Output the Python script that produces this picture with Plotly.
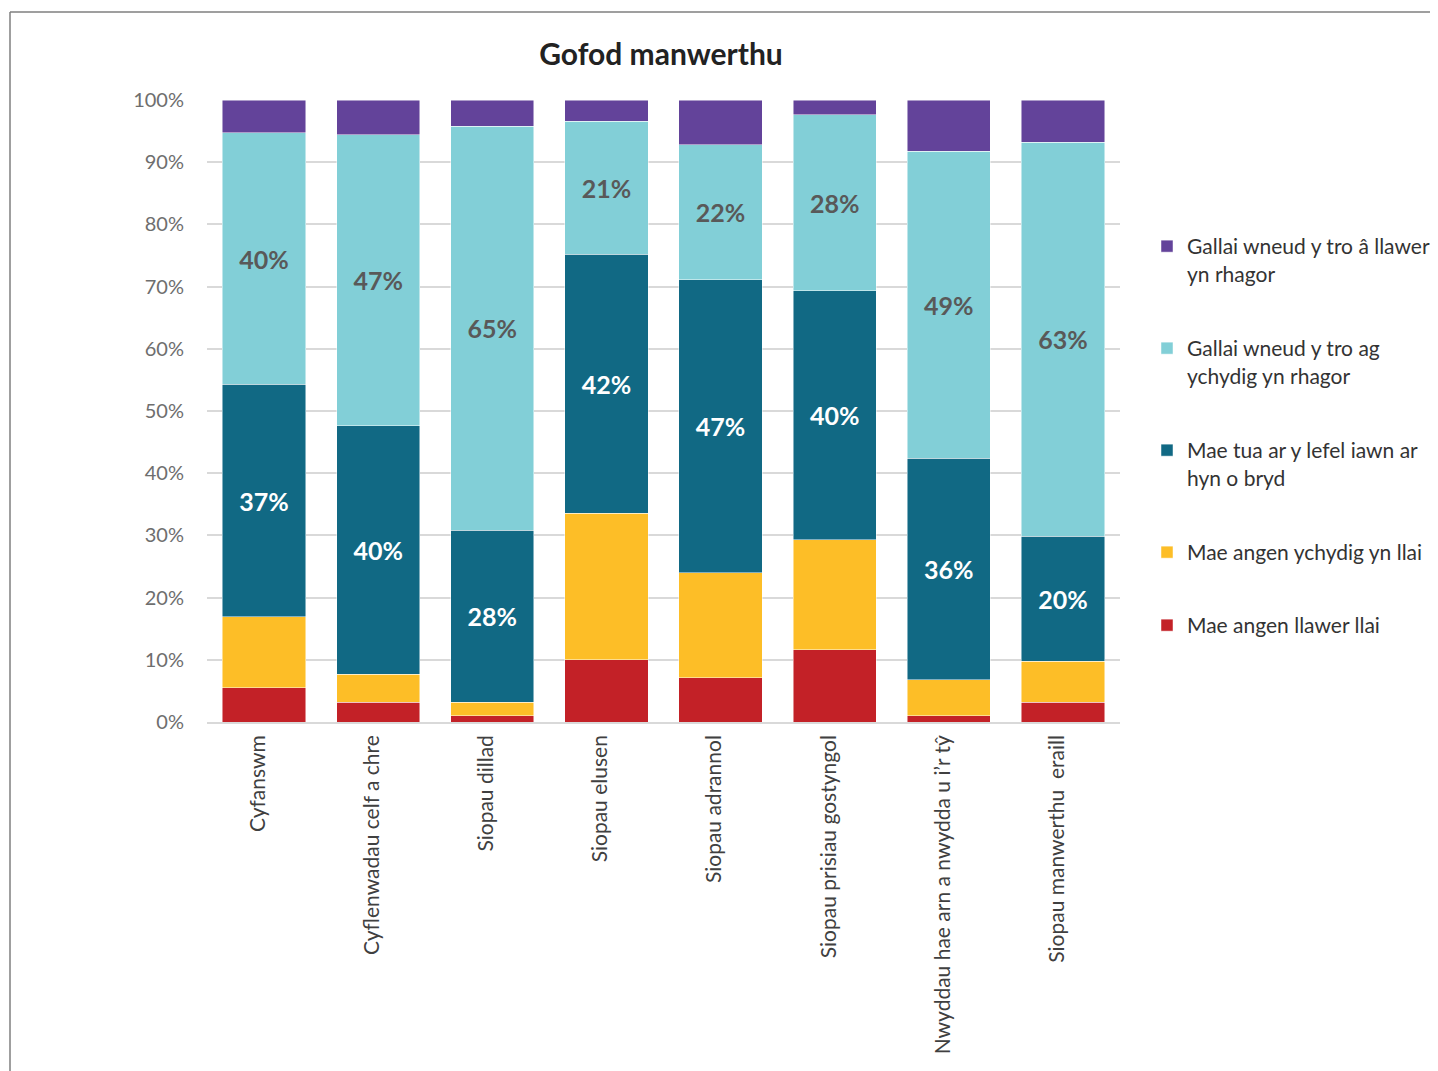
import plotly.graph_objects as go

categories = ["Cyfanswm", "Cyflenwadau celf a chre", "Siopau dillad", "Siopau elusen",
              "Siopau adrannol", "Siopau prisiau gostyngol",
              "Nwyddau hae arn a nwydda u i\u2019r tŷ", "Siopau manwerthu  eraill"]

red_vals = [5.5, 3.2, 1.0, 10.0, 7.1, 11.6, 1.0, 3.2]
yellow_vals = [11.4, 4.5, 2.2, 23.6, 16.9, 17.7, 5.8, 6.6]
dark_vals = [37.4, 39.9, 27.6, 41.6, 47.1, 40.0, 35.6, 20.1]
light_vals = [40.4, 46.8, 65.0, 21.4, 21.7, 28.3, 49.4, 63.3]
purple_vals = [5.3, 5.6, 4.2, 3.4, 7.2, 2.4, 8.2, 6.8]

series_names = ["Mae angen llawer llai", "Mae angen ychydig yn llai",
                "Mae tua ar y lefel iawn ar<br>hyn o bryd",
                "Gallai wneud y tro ag<br>ychydig yn rhagor",
                "Gallai wneud y tro â llawer<br>yn rhagor"]
tick_vals = [0, 10, 20, 30, 40, 50, 60, 70, 80, 90, 100]
tick_text = ["0%", "10%", "20%", "30%", "40%", "50%", "60%", "70%", "80%", "90%", "100%"]

colors = ["#C32127", "#FDBE27", "#116984", "#82CFD7", "#63439A"]
show_labels = [False, False, True, True, False]
label_colors = [None, None, "#FFFFFF", "#595959", None]
values = [red_vals, yellow_vals, dark_vals, light_vals, purple_vals]

FONT = "Lato"
O = 8  # page body margin offset
W, H = 1438, 1071
L, R, T, B = 207 - O, 1120 - O, 100 - O, 722 - O


def py(pix):  # screen pixel -> paper y
    return (B - (pix - O)) / (B - T)


def px(pix):  # screen pixel -> paper x
    return ((pix - O) - L) / (R - L)


fig = go.Figure()
legend_ids = ["legend5", "legend4", "legend3", "legend2", "legend"]
for i in range(5):
    kw = {}
    if show_labels[i]:
        kw = dict(texttemplate="%{y:.0f}%", textposition="inside", insidetextanchor="middle",
                  textangle=0,
                  textfont=dict(family=FONT, size=25, color=label_colors[i], weight="bold"))
    fig.add_trace(go.Bar(
        x=categories, y=values[i], name=series_names[i],
        marker=dict(color=colors[i], line=dict(color="rgba(255,255,255,0.6)", width=0.8)),
        legend=legend_ids[i], hoverinfo="skip", **kw))

leg_map = {"legend": 226, "legend2": 328, "legend3": 430, "legend4": 532, "legend5": 605}
layout_legends = {}
for lid, top in leg_map.items():
    layout_legends[lid] = dict(x=px(1147), y=py(top), xanchor="left", yanchor="top",
                               font=dict(family=FONT, size=21, color="#333333"),
                               bgcolor="rgba(0,0,0,0)", valign="top")

fig.update_layout(
    width=W, height=H,
    margin=dict(l=L, r=W - R, t=T, b=H - B, autoexpand=False),
    paper_bgcolor="white", plot_bgcolor="white",
    barmode="stack", bargap=0.27,
    showlegend=True,
    title=dict(text="<b>Gofod manwerthu</b>", xref="container", yref="container",
               x=(661 - O) / W, xanchor="center", y=1 - (54 - O) / H, yanchor="middle",
               font=dict(family=FONT, size=30, color="#222222")),
    font=dict(family=FONT),
    **layout_legends,
)
fig.update_yaxes(range=[0, 100], tickvals=tick_vals, ticktext=tick_text, showgrid=True,
                 gridcolor="#D9D9D9", gridwidth=1.5, zeroline=False, showline=False,
                 tickfont=dict(family=FONT, size=20, color="#6E6E6E"), ticklabelstandoff=22)
fig.update_xaxes(tickangle=-90, tickfont=dict(family=FONT, size=21, color="#404040"),
                 showline=True, linecolor="#D9D9D9", linewidth=1.5, ticklabelstandoff=3,
                 ticklabelshift=-6)

# outer frame (cropped border)
fig.add_shape(type="line", xref="paper", yref="paper", x0=px(10), x1=px(1500), y0=py(12), y1=py(12),
              line=dict(color="#7F7F7F", width=1.5))
fig.add_shape(type="line", xref="paper", yref="paper", x0=px(10), x1=px(10), y0=py(12), y1=py(1100),
              line=dict(color="#7F7F7F", width=1.5))

fig.write_html("out.html")
